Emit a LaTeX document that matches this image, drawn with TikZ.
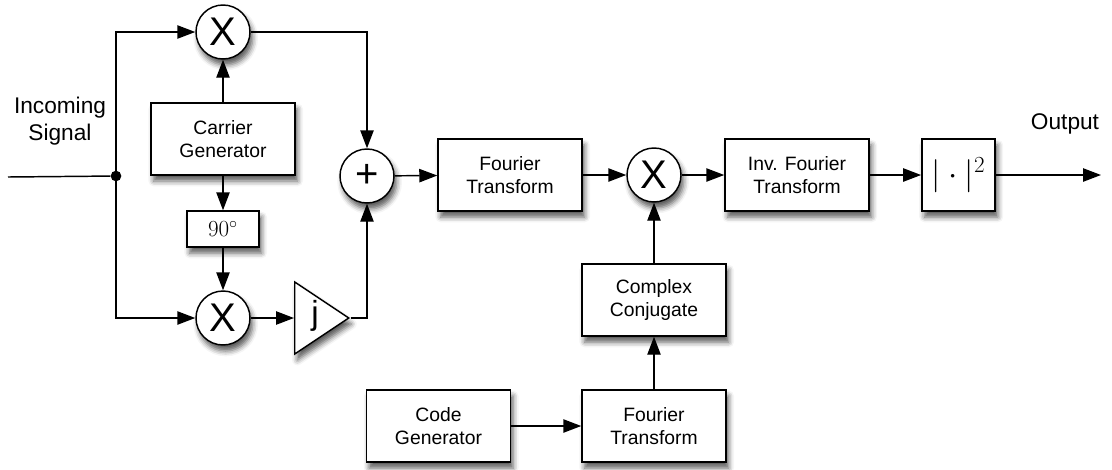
\documentclass[tikz,border=0pt]{standalone}
\usepackage{fontspec}
\setmainfont{Liberation Sans}
\usetikzlibrary{arrows.meta,shapes.geometric,shadows.blur}
\begin{document}
\begin{tikzpicture}[x=0.75pt,y=-0.75pt,
  shd/.style={blur shadow={shadow xshift=2pt,shadow yshift=-4.5pt,shadow blur radius=4pt,shadow opacity=65}},
  blk/.style={draw,line width=1.1pt,fill=white,minimum width=108pt,minimum height=54pt,inner sep=0pt,align=center,font=\fontsize{14.5}{17.5}\selectfont,shd},
  opc/.style={draw,circle,line width=1.1pt,fill=white,minimum size=40.5pt,inner sep=0pt,font=\fontsize{30}{30}\selectfont,shd},
  arr/.style={line width=1.1pt,-{Triangle[length=13.5pt,width=10pt]}},
  ln/.style={line width=1.1pt},
  lbl/.style={align=center,font=\fontsize{17}{20.5}\selectfont}]
\useasboundingbox (0,0) rectangle (1112,469);
% nodes
\node[opc] (x1) at (223,32) {X};
\node[blk] (cg) at (223,139) {Carrier\\Generator};
\node[blk,minimum width=54pt,minimum height=27pt,font=\fontsize{17}{17}\selectfont] (p90) at (223,229) {$90^\circ$};
\node[opc] (x2) at (223,318) {X};
\node[draw,isosceles triangle,isosceles triangle stretches,line width=1.1pt,fill=white,
  minimum width=54pt,minimum height=40.5pt,inner sep=0pt,shd,anchor=west] (amp) at (294,318) {};
\node[font=\fontsize{25}{25}\selectfont] (jl) at (315,316) {j};
\node[opc] (plus) at (367,176) {+};
\node[blk] (ft1) at (510,175) {Fourier\\Transform};
\node[opc] (x3) at (654,175) {X};
\node[blk] (ift) at (797,175) {Inv. Fourier\\Transform};
\node[blk,minimum width=55pt,font=\fontsize{25}{25}\selectfont] (abs) at (958.5,175) {$|\cdot|^2$};
\node[blk] (cc) at (654,300) {Complex\\Conjugate};
\node[blk] (code) at (438.5,426) {Code\\Generator};
\node[blk] (ft2) at (654,426) {Fourier\\Transform};
\node[circle,fill=black,inner sep=0pt,minimum size=8pt] (dot) at (116,176) {};
\node[lbl] (inlbl) at (60,121) {Incoming\\Signal};
\node[lbl] (outlbl) at (1065,124) {Output};
\coordinate (start) at (8,177);
\coordinate (out) at (1101,175);
% connectors
\draw[ln] (start) -- (dot);
\draw[arr] (dot.center) |- (x1.west);
\draw[arr] (dot.center) |- (x2.west);
\draw[arr] (cg) -- (x1);
\draw[arr] (cg) -- (p90);
\draw[arr] (p90) -- (x2);
\draw[arr] (x2) -- (amp.west);
\draw[arr] (amp.apex) -| (plus.south);
\draw[arr] (x1.east) -| (plus.north);
\draw[arr] (plus) -- (ft1);
\draw[arr] (ft1) -- (x3);
\draw[arr] (x3) -- (ift);
\draw[arr] (ift) -- (abs);
\draw[arr] (abs) -- (out);
\draw[arr] (cc) -- (x3);
\draw[arr] (ft2) -- (cc);
\draw[arr] (code) -- (ft2);
\end{tikzpicture}
\end{document}
